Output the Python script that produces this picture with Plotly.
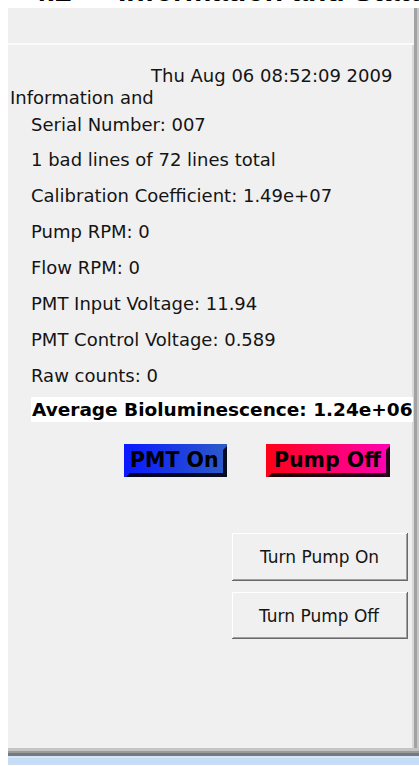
import plotly.graph_objects as go

# ---- content (text values) ----
timestamp = "Thu Aug 06 08:52:09 2009"
section_title = "Information and"
field_labels = ["Serial Number: 007", "1 bad lines of 72 lines total",
                "Calibration Coefficient: 1.49e+07", "Pump RPM: 0", "Flow RPM: 0",
                "PMT Input Voltage: 11.94", "PMT Control Voltage: 0.589", "Raw counts: 0"]
field_rows_y = [124, 159, 195, 231, 267, 303, 339, 375]
highlight_label = "Average Bioluminescence: 1.24e+06"
status_labels = ["PMT On", "Pump Off"]
action_labels = ["Turn Pump On", "Turn Pump Off"]

W, H = 419, 766
FONT = "DejaVu Sans"
TXT = "#141414"

fig = go.Figure()
shapes = []
ann = []

def rect(x0, y0, x1, y1, color, layer="below"):
    shapes.append(dict(type="rect", xref="x", yref="y", x0=x0, y0=y0, x1=x1, y1=y1,
                       fillcolor=color, line=dict(width=0), layer=layer))

# window panel
rect(8, 8, 414, 43, "#efefef")
rect(8, 43, 414, 45, "#fafafa")
rect(8, 45, 413, 749, "#f0f0f0")
rect(412, 45, 414, 749, "#d8d8d8")
rect(414, 8, 418, 750, "#a2a2a2")
rect(417, 8, 419, 750, "#c8c8c8")
# bottom frame
rect(8, 748, 419, 751, "#c4c4c4")
rect(8, 751, 419, 753, "#9a9a9a")
rect(8, 753, 419, 756, "#737a82")
rect(8, 756, 419, 765, "#c6def5")
rect(8, 756, 419, 758, "#d4e6f8")

# header (mostly cut off at top of the page, as in the reference)
for hx, htxt in [(28, "4.2"), (116, "Information and Status")]:
    ann.append(dict(x=hx, xref="x", y=1 + 9.5 / H, yref="paper", text="<b>" + htxt + "</b>",
                    xanchor="left", yanchor="middle",
                    font=dict(family="Liberation Sans", size=30, color="#000"), showarrow=False))

# section label + timestamp
ann.append(dict(x=8, y=97, text=section_title, xanchor="left", yanchor="middle",
                font=dict(family=FONT, size=18, color=TXT), showarrow=False))
rect(151, 86, 260, 108, "#f0f0f0", layer="above")
ann.append(dict(x=148, y=75, text=timestamp, xanchor="left", yanchor="middle",
                font=dict(family=FONT, size=18, color=TXT), showarrow=False))

for lab, yy in zip(field_labels, field_rows_y):
    ann.append(dict(x=29, y=yy, text=lab, xanchor="left", yanchor="middle",
                    font=dict(family=FONT, size=18, color=TXT), showarrow=False))

# highlighted average
rect(31, 397, 413, 422, "#ffffff")
ann.append(dict(x=30, y=409, text="<b>" + highlight_label + "</b>", xanchor="left", yanchor="middle",
                font=dict(family="DejaVu Sans", size=18.5, color="#000"), showarrow=False))

# status indicators with gradient
status_boxes = [(124, 444, 227, 477), (266, 444, 390, 477)]
status_grads = [[[0, "#0a18ff"], [1, "#2c5cc8"]], [[0, "#ff0018"], [1, "#ff00b4"]]]
for (x0, y0, x1, y1), cs, lab in zip(status_boxes, status_grads, status_labels):
    fig.add_trace(go.Scatter(x=[x0, x1, x1, x0, x0], y=[y0, y0, y1, y1, y0], mode="lines",
                             fill="toself", line=dict(width=0),
                             fillgradient=dict(type="horizontal", colorscale=cs),
                             hoverinfo="skip", showlegend=False))
    shapes.append(dict(type="path", xref="x", yref="y",
                       path=f"M {x0+2},{y1} L {x1},{y1} L {x1},{y0+2} L {x1-4},{y0+6} L {x1-4},{y1-4} L {x0+6},{y1-4} Z",
                       fillcolor="rgba(0,0,0,0.85)", line=dict(width=0), layer="above"))
    ann.append(dict(x=(x0 + x1) / 2 - 1, y=(y0 + y1) / 2 - 1, text="<b>" + lab + "</b>",
                    xanchor="center", yanchor="middle",
                    font=dict(family="DejaVu Sans", size=20.5, color="#000"), showarrow=False))

# push buttons
btn_boxes = [(232, 533, 408, 581), (232, 592, 408, 639)]
for (x0, y0, x1, y1), lab in zip(btn_boxes, action_labels):
    rect(x0, y0, x1, y1, "#696969")
    rect(x0, y0, x1 - 1, y1 - 1, "#ffffff")
    rect(x0 + 1, y0 + 1, x1 - 1, y1 - 1, "#a0a0a0")
    rect(x0 + 1, y0 + 1, x1 - 2, y1 - 2, "#f0f0f0")
    ann.append(dict(x=(x0 + x1) / 2 - 1, y=(y0 + y1) / 2, text=lab, xanchor="center", yanchor="middle",
                    font=dict(family=FONT, size=17, color=TXT), showarrow=False))

fig.update_layout(width=W, height=H, margin=dict(l=0, r=0, t=0, b=0),
                  paper_bgcolor="#ffffff", plot_bgcolor="#ffffff",
                  xaxis=dict(range=[0, W], visible=False, fixedrange=True),
                  yaxis=dict(range=[H, 0], visible=False, fixedrange=True),
                  shapes=shapes, annotations=ann, showlegend=False)
fig.write_html("out.html", config={"displayModeBar": False},
               post_script="document.body.style.margin='0';")
